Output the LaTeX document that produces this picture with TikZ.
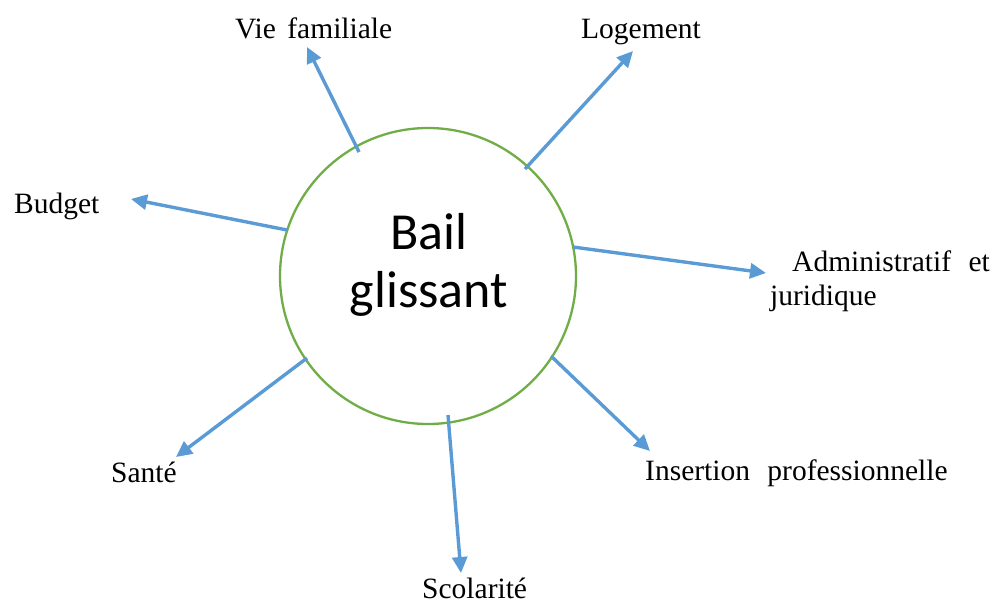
\documentclass[tikz,border=0pt]{standalone}
\usepackage{fontspec}
\setmainfont{Liberation Serif}
\newfontfamily\calib{Carlito}
\usetikzlibrary{arrows.meta}
\definecolor{arrowblue}{HTML}{5B9BD5}
\definecolor{circgreen}{HTML}{70AD47}
\tikzset{
  lbl/.style={anchor=base west, inner sep=0pt, font=\fontsize{29.5}{34}\selectfont},
  conn/.style={draw=arrowblue, line width=3.4pt, -{Triangle[length=16pt,width=15pt]}},
  hub/.style={circle, draw=circgreen, line width=2.3pt, minimum size=296pt, inner sep=0pt}
}
\begin{document}
\begin{tikzpicture}[x=1pt,y=-1pt]
\useasboundingbox (0,0) rectangle (998,603);
\node[hub] (c) at (428,276) {};
\node[align=center, inner sep=0pt, font=\calib\fontsize{52}{58}\selectfont] (t) at (429,265) {Bail\\glissant};
% labels
\node[lbl] (vie) at (235,38) {Vie\hspace{4pt} familiale};
\node[lbl] (log) at (581,38) {Logement};
\node[lbl] (bud) at (14,213) {Budget};
\node[lbl, align=left] (adm) at (770,305) {\hspace{22pt}Administratif\hspace{10pt} et\\juridique};
\node[lbl] (ins) at (645,480) {Insertion\hspace{10pt} professionnelle};
\node[lbl] (san) at (111,482) {Santé};
\node[lbl] (sco) at (422,598) {Scolarité};
% connector endpoints
\coordinate (s1) at (359,152); \coordinate (e1) at (307,47);
\coordinate (s2) at (525,169); \coordinate (e2) at (633,51);
\coordinate (s3) at (287,230); \coordinate (e3) at (131,199);
\coordinate (s4) at (573,247); \coordinate (e4) at (766,273);
\coordinate (s5) at (551,356); \coordinate (e5) at (650,451);
\coordinate (s6) at (307,358); \coordinate (e6) at (176,457);
\coordinate (s7) at (448,415); \coordinate (e7) at (461,573);
\draw[conn] (s1) -- (e1);
\draw[conn] (s2) -- (e2);
\draw[conn] (s3) -- (e3);
\draw[conn] (s4) -- (e4);
\draw[conn] (s5) -- (e5);
\draw[conn] (s6) -- (e6);
\draw[conn] (s7) -- (e7);
\end{tikzpicture}
\end{document}
